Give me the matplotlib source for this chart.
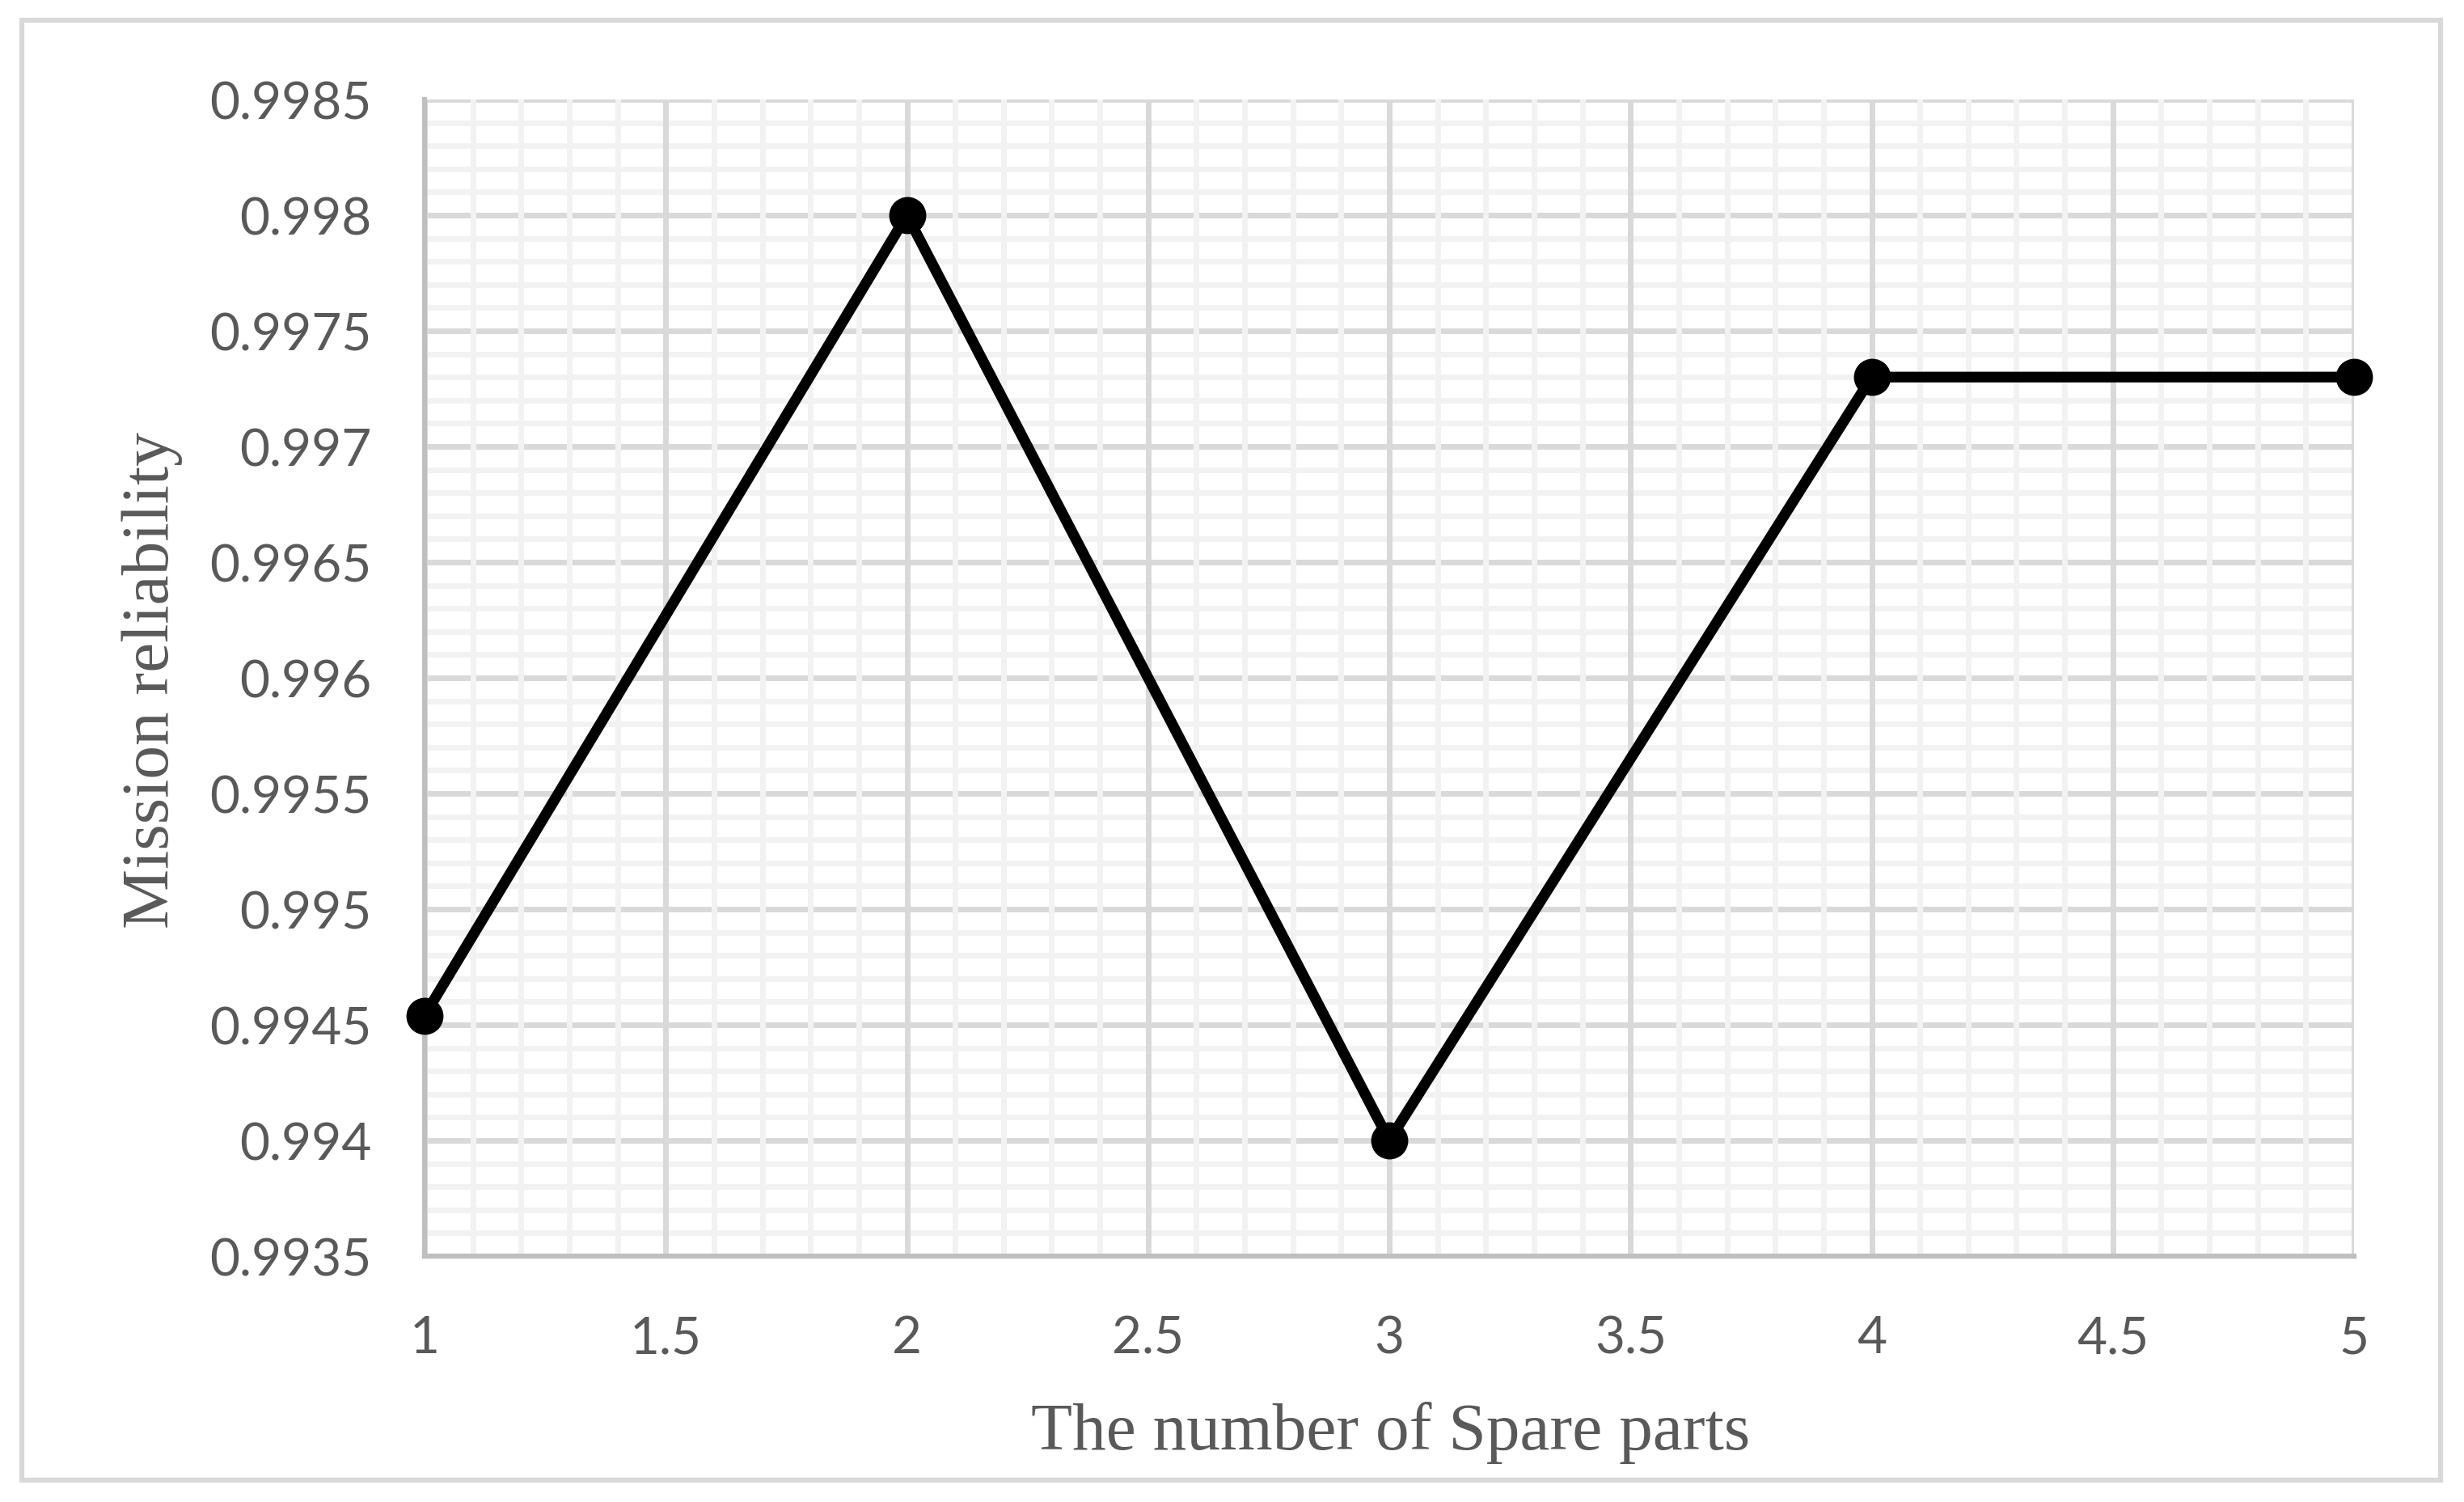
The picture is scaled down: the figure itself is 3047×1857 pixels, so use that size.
import matplotlib
matplotlib.use("Agg")
import matplotlib.pyplot as plt
from matplotlib.ticker import MultipleLocator
from matplotlib.patches import Rectangle

spare_parts = [1, 2, 3, 4, 5]
reliability = [0.99454, 0.9980, 0.9940, 0.9973, 0.9973]
x_label = "The number of Spare parts"
y_label = "Mission reliability"

W, H = 3047, 1858
fig = plt.figure(figsize=(W / 100, H / 100), dpi=100)
ax = fig.add_axes([525 / W, 1 - 1554 / H, (2911 - 525) / W, (1554 - 124) / H])

# outer border
fig.patches.append(Rectangle((27 / W, 27 / H), (3018 - 27) / W, (1832 - 27) / H,
                             transform=fig.transFigure, fill=False,
                             edgecolor="#d9d9d9", linewidth=4.5))

ax.set_xlim(1, 5)
ax.set_ylim(0.9935, 0.9985)
ax.xaxis.set_major_locator(MultipleLocator(0.5))
ax.xaxis.set_minor_locator(MultipleLocator(0.1))
ax.yaxis.set_major_locator(MultipleLocator(0.0005))
ax.yaxis.set_minor_locator(MultipleLocator(0.0001))

ax.xaxis.set_major_formatter(lambda v, p: f"{v:g}")
ax.yaxis.set_major_formatter(lambda v, p: f"{round(v, 5):g}")

ax.set_axisbelow(False)
ax.grid(which="minor", color="#f2f2f2", linewidth=5)
ax.grid(which="major", color="#d9d9d9", linewidth=5)
# vertical grid lines on top of horizontal ones (as in the reference)
ax.yaxis.set_zorder(0.5)
ax.xaxis.set_zorder(0.6)

for s in ["top", "right"]:
    ax.spines[s].set_visible(False)
for s in ["left", "bottom"]:
    ax.spines[s].set_color("#bfbfbf")
    ax.spines[s].set_linewidth(4.5)
    ax.spines[s].set_zorder(1)

ax.tick_params(which="both", length=0)
ax.tick_params(axis="y", pad=47, labelsize=46, labelcolor="#595959")
ax.tick_params(axis="x", pad=52, labelsize=46, labelcolor="#595959")
for lab in ax.get_xticklabels() + ax.get_yticklabels():
    lab.set_fontfamily("Lato")

ax.plot(spare_parts, reliability, color="black", linewidth=9.5, marker="o",
        markersize=32, zorder=3, clip_on=False)

fig.text(1720 / W, 1 - 1772 / H, x_label, ha="center", va="center",
         fontsize=60, color="#595959", family="Liberation Serif")
fig.text(188 / W, 1 - 841 / H, y_label, ha="center", va="center", rotation=90,
         fontsize=60, color="#595959", family="Liberation Serif")

fig.savefig("out.png", dpi=100, facecolor="white")
